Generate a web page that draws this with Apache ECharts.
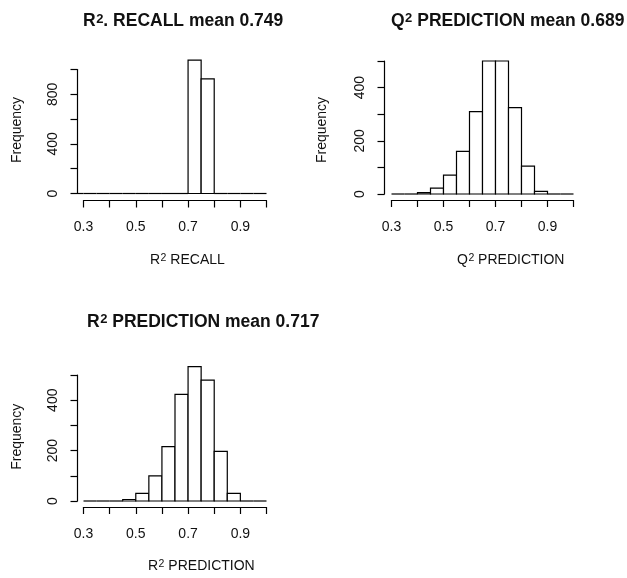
<!DOCTYPE html>
<html>
<head>
<meta charset="utf-8">
<script src="https://cdn.jsdelivr.net/npm/echarts@6/dist/echarts.min.js"></script>
<style>
  html, body { margin: 0; padding: 0; background: #fff; }
  #chart { width: 627px; height: 578px; }
</style>
</head>
<body>
<div id="chart"></div>
<script>
// ---- data ----
const xTickLabels = ['0.3', '0.5', '0.7', '0.9'];

const recallBreaks = [0.25, 0.30, 0.35, 0.40, 0.45, 0.50, 0.55, 0.60, 0.65, 0.70, 0.75, 0.80, 0.85, 0.90, 0.95, 1.00];
const recallCounts = [0, 0, 0, 0, 0, 0, 0, 0, 0, 1076, 924, 0, 0, 0, 0];
const recallYLabels = [0, 400, 800];

const q2Breaks = [0.30, 0.35, 0.40, 0.45, 0.50, 0.55, 0.60, 0.65, 0.70, 0.75, 0.80, 0.85, 0.90, 0.95, 1.00];
const q2Counts = [0, 0, 5, 22, 71, 160, 310, 500, 500, 325, 105, 10, 0, 0];
const q2YLabels = [0, 200, 400];

const r2PredBreaks = [0.30, 0.35, 0.40, 0.45, 0.50, 0.55, 0.60, 0.65, 0.70, 0.75, 0.80, 0.85, 0.90, 0.95, 1.00];
const r2PredCounts = [0, 0, 0, 6, 30, 100, 216, 423, 533, 480, 197, 30, 0, 0];
const r2PredYLabels = [0, 200, 400];

// ---- layout ----
const FONT = '"Liberation Sans", Arial, sans-serif';
const TXT = '#111';
const LW = 1.2;
const panels = [
  { breaks: recallBreaks, counts: recallCounts, yLabels: recallYLabels, yMax: 1000, yInt: 200,
    grid: { left: 83.5, top: 69.5, width: 183, height: 124 }, yOff: 6, xOff: 7 },
  { breaks: q2Breaks, counts: q2Counts, yLabels: q2YLabels, yMax: 500, yInt: 100,
    grid: { left: 391.5, top: 61, width: 182, height: 133 }, yOff: 7, xOff: 6 },
  { breaks: r2PredBreaks, counts: r2PredCounts, yLabels: r2PredYLabels, yMax: 500, yInt: 100,
    grid: { left: 83.5, top: 375, width: 183, height: 126 }, yOff: 6, xOff: 6 }
];

const lineStyle = { color: '#000', width: LW };

const option = {
  backgroundColor: '#fff',
  animation: false,
  grid: panels.map(p => Object.assign({ containLabel: false }, p.grid)),
  xAxis: panels.map((p, i) => ({
    type: 'value', gridIndex: i, min: 0.3, max: 1.0, interval: 0.1,
    position: 'bottom', offset: p.xOff,
    axisLine: { show: true, onZero: false, lineStyle },
    axisTick: { show: true, length: 7, lineStyle },
    splitLine: { show: false },
    axisLabel: {
      show: true, margin: 20, fontSize: 14, fontFamily: FONT, color: TXT,
      showMinLabel: true, showMaxLabel: true,
      formatter: v => { const s = Number(v).toFixed(1); return xTickLabels.indexOf(s) >= 0 ? s : ''; }
    }
  })),
  yAxis: panels.map((p, i) => ({
    type: 'value', gridIndex: i, min: 0, max: p.yMax, interval: p.yInt,
    position: 'left', offset: p.yOff,
    axisLine: { show: true, onZero: false, lineStyle },
    axisTick: { show: true, length: 7, lineStyle },
    splitLine: { show: false },
    axisLabel: {
      show: true, rotate: 90, margin: 17, fontSize: 14, fontFamily: FONT, color: TXT,
      showMinLabel: true, showMaxLabel: true,
      formatter: v => (p.yLabels.indexOf(Math.round(v)) >= 0 ? String(Math.round(v)) : '')
    }
  })),
  series: panels.map((p, i) => ({
    type: 'custom', xAxisIndex: i, yAxisIndex: i, silent: true, clip: false,
    data: p.counts.map((c, k) => [p.breaks[k], p.breaks[k + 1], c]),
    encode: { x: [0, 1], y: 2 },
    renderItem: (params, api) => {
      const x0 = api.value(0), x1 = api.value(1), c = api.value(2);
      const pTop = api.coord([x0, c]);
      const pBot = api.coord([x1, 0]);
      const leftLimit = params.coordSys.x - p.yOff;
      const left = Math.max(pTop[0], leftLimit);
      if (c === 0) {
        return { type: 'line', shape: { x1: left, y1: pBot[1], x2: pBot[0], y2: pBot[1] },
                 style: { stroke: '#000', lineWidth: LW } };
      }
      return { type: 'rect',
               shape: { x: left, y: pTop[1], width: pBot[0] - left, height: pBot[1] - pTop[1] },
               style: { fill: '#fff', stroke: '#000', lineWidth: LW } };
    }
  })),
  graphic: []
};

// text measuring for superscript placement
const mctx = document.createElement('canvas').getContext('2d');
function textW(font, s) { mctx.font = font; return mctx.measureText(s).width; }

// base letter + superscript "2" + rest; yc = cap centre of main text
function supText(x, yc, base, after, big) {
  const F = big ? 17.5 : 14;
  const fs = big ? 13 : 10.5;
  const w = big ? 'bold' : 'normal';
  const fMain = w + ' ' + F + 'px ' + FONT;
  const fSup = w + ' ' + fs + 'px ' + FONT;
  const wBase = textW(fMain, base);
  const wSup = textW(fSup, '2');
  const ySup = yc - 0.358 * F + 0.358 * fs - 0.8;
  const mk = (tx, ty, s, font) => ({
    type: 'text', x: tx, y: ty, silent: true,
    style: { text: s, textAlign: 'left', textVerticalAlign: 'middle', font: font, fill: TXT }
  });
  return [mk(x, yc, base, fMain), mk(x + wBase + 0.5, ySup, '2', fSup),
          mk(x + wBase + wSup + 0.5, yc, after, fMain)];
}

option.graphic.push(...supText(83, 21.6, 'R', '. RECALL mean 0.749', true));
option.graphic.push(...supText(391, 21.3, 'Q', ' PREDICTION mean 0.689', true));
option.graphic.push(...supText(87, 322, 'R', ' PREDICTION mean 0.717', true));

option.graphic.push(...supText(150, 260, 'R', ' RECALL', false));
option.graphic.push(...supText(457, 260.5, 'Q', ' PREDICTION', false));
option.graphic.push(...supText(148, 566.5, 'R', ' PREDICTION', false));

[[17, 130], [322.5, 130], [17, 436.7]].forEach(([x, y]) => {
  option.graphic.push({
    type: 'text', x: x, y: y, rotation: Math.PI / 2, silent: true,
    style: { text: 'Frequency', textAlign: 'center', textVerticalAlign: 'middle',
             font: 'normal 14px ' + FONT, fill: TXT }
  });
});

const chart = echarts.init(document.getElementById('chart'), null, { renderer: 'canvas' });
chart.setOption(option);
</script>
</body>
</html>
